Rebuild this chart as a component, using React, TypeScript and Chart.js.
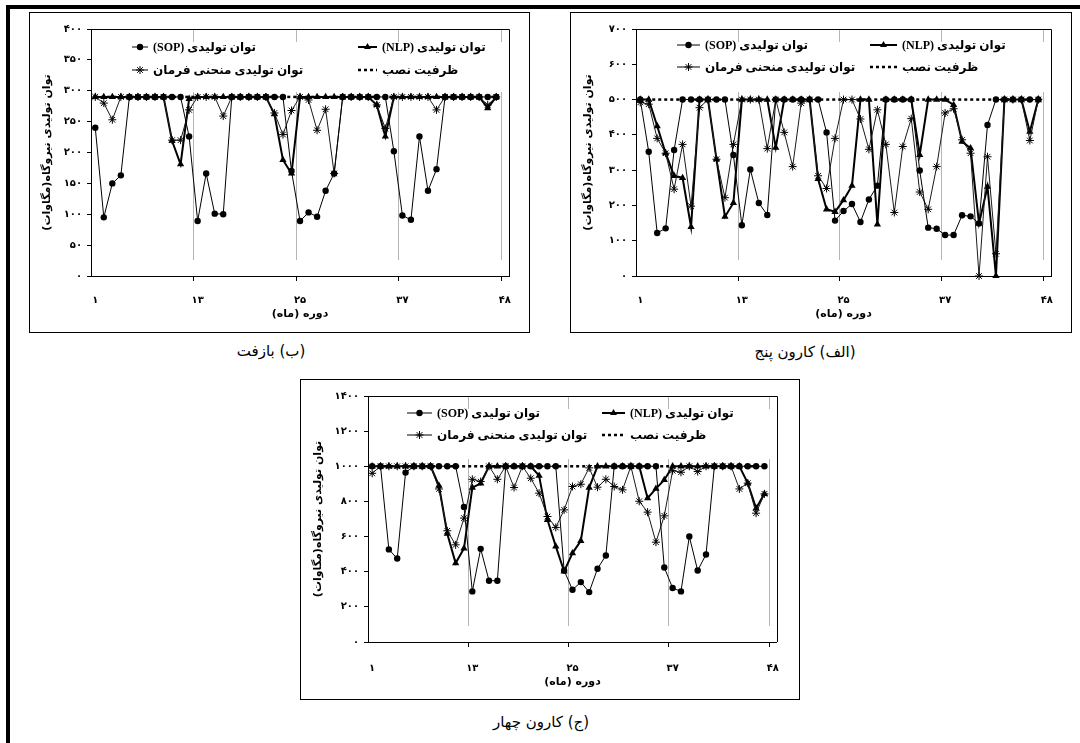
import React, { useEffect, useRef } from 'react';
import { Chart, registerables } from 'chart.js';
Chart.register(...registerables);

// ---------- categories / ticks ----------
const months = [1, 2, 3, 4, 5, 6, 7, 8, 9, 10, 11, 12, 13, 14, 15, 16, 17, 18, 19, 20, 21, 22, 23, 24,
  25, 26, 27, 28, 29, 30, 31, 32, 33, 34, 35, 36, 37, 38, 39, 40, 41, 42, 43, 44, 45, 46, 47, 48];
const xTickPos = [1, 13, 25, 37, 49];
const xTickLabels = ['۱', '۱۳', '۲۵', '۳۷', '۴۸'];
const yearBounds = [12.5, 24.5, 36.5, 48.5];

// ---------- labels ----------
const labelSOP = 'توان تولیدی (SOP)';
const labelNLP = 'توان تولیدی (NLP)';
const labelFarman = 'توان تولیدی منحنی فرمان';
const labelCap = 'ظرفیت نصب';
const yTitle = 'توان تولیدی نیروگاه(مگاوات)';
const xTitle = 'دوره (ماه)';

// ---------- Bazoft (ب) ----------
const bazoftCap = 290;
const bazoftSOP = [240, 95, 150, 163, 290, 290, 290, 290, 290, 290, 290, 226, 89, 166, 101, 100, 290, 290, 290, 290, 290, 290, 290, 170,
  89, 103, 96, 138, 166, 290, 290, 290, 290, 290, 290, 202, 98, 91, 226, 138, 173, 290, 290, 290, 290, 290, 290, 290];
const bazoftNLP = [290, 290, 290, 290, 290, 290, 290, 290, 290, 219, 181, 287, 290, 290, 290, 290, 290, 290, 290, 290, 290, 262, 188, 166,
  290, 290, 290, 290, 290, 290, 290, 290, 290, 277, 226, 290, 290, 290, 290, 290, 290, 290, 290, 290, 290, 290, 272, 290];
const bazoftFarman = [290, 280, 253, 290, 290, 290, 290, 290, 290, 220, 220, 269, 290, 290, 290, 259, 290, 290, 290, 290, 290, 264, 229, 268,
  290, 285, 236, 270, 166, 290, 290, 290, 290, 277, 239, 290, 290, 290, 290, 290, 269, 290, 290, 290, 290, 290, 277, 290];

// ---------- Karun 5 (الف) ----------
const karun5Cap = 500;
const karun5SOP = [500, 352, 122, 135, 357, 500, 500, 500, 500, 500, 500, 343, 144, 302, 207, 173, 500, 500, 500, 500, 500, 500, 407, 157,
  184, 204, 153, 217, 256, 500, 500, 500, 500, 299, 137, 134, 116, 116, 172, 169, 149, 428, 500, 500, 500, 500, 500, 500];
const karun5NLP = [500, 500, 425, 348, 284, 278, 139, 500, 500, 331, 168, 207, 500, 500, 500, 500, 364, 500, 500, 500, 500, 275, 189, 182,
  215, 256, 500, 500, 146, 500, 500, 500, 500, 343, 500, 500, 500, 485, 381, 362, 149, 253, 0, 500, 500, 500, 409, 500];
const karun5Farman = [492, 487, 390, 348, 246, 373, 198, 477, 500, 331, 222, 373, 500, 500, 500, 361, 500, 407, 310, 490, 500, 284, 248, 390,
  500, 500, 445, 359, 471, 373, 180, 367, 446, 238, 189, 310, 462, 474, 386, 348, 0, 338, 63, 500, 500, 500, 384, 500];

// ---------- Karun 4 (ج) ----------
const karun4Cap = 1000;
const karun4SOP = [1000, 1000, 527, 475, 964, 1000, 1000, 1000, 1000, 1000, 1000, 769, 288, 530, 349, 349, 1000, 1000, 1000, 1000, 1000, 1000, 1000, 407,
  297, 341, 284, 417, 492, 1000, 1000, 1000, 1000, 1000, 1000, 424, 307, 288, 600, 407, 498, 1000, 1000, 1000, 1000, 1000, 1000, 1000];
const karun4NLP = [1000, 1000, 1000, 1000, 1000, 1000, 1000, 1000, 890, 616, 449, 532, 879, 902, 1000, 1000, 1000, 1000, 1000, 1000, 947, 695, 544, 402,
  506, 576, 879, 1000, 1000, 1000, 1000, 1000, 1000, 818, 873, 922, 1000, 1000, 1000, 1000, 1000, 1000, 1000, 1000, 1000, 904, 761, 843];
const karun4Farman = [960, 1000, 1000, 1000, 1000, 1000, 1000, 1000, 871, 633, 553, 705, 926, 913, 1000, 926, 1000, 879, 1000, 932, 847, 714, 652, 752,
  885, 898, 991, 881, 926, 885, 866, 1000, 801, 739, 568, 718, 975, 966, 1000, 970, 1000, 1000, 1000, 1000, 871, 904, 733, 843];

const FONT = '"DejaVu Sans", sans-serif';
const LEG_FONT = 'bold 12px "Liberation Serif", "DejaVu Sans", serif';

function fa(n: number | string): string {
  return String(n).replace(/\d/g, (d) => '۰۱۲۳۴۵۶۷۸۹'[Number(d)]);
}

type Kind = 'sop' | 'nlp' | 'farman' | 'cap';

function drawMarker(ctx: CanvasRenderingContext2D, kind: Kind, x: number, y: number) {
  ctx.fillStyle = '#000';
  ctx.strokeStyle = '#000';
  if (kind === 'sop') {
    ctx.beginPath();
    ctx.arc(x, y, 3.2, 0, Math.PI * 2);
    ctx.fill();
  } else if (kind === 'nlp') {
    const r = 4;
    ctx.beginPath();
    ctx.moveTo(x, y - r);
    ctx.lineTo(x + r * 0.866, y + r * 0.5);
    ctx.lineTo(x - r * 0.866, y + r * 0.5);
    ctx.closePath();
    ctx.fill();
  } else if (kind === 'farman') {
    const r = 4;
    ctx.lineWidth = 1;
    ctx.beginPath();
    ctx.moveTo(x - r, y); ctx.lineTo(x + r, y);
    ctx.moveTo(x, y - r); ctx.lineTo(x, y + r);
    const d = r * 0.707;
    ctx.moveTo(x - d, y - d); ctx.lineTo(x + d, y + d);
    ctx.moveTo(x - d, y + d); ctx.lineTo(x + d, y - d);
    ctx.stroke();
  }
}

function drawLegendItem(ctx: CanvasRenderingContext2D, kind: Kind, label: string, x0: number, y: number, w: number) {
  ctx.save();
  ctx.strokeStyle = '#000';
  ctx.beginPath();
  if (kind === 'cap') {
    ctx.lineWidth = 2.5;
    ctx.setLineDash([3, 3]);
  } else {
    ctx.lineWidth = kind === 'nlp' ? 2 : 1;
  }
  ctx.moveTo(x0, y);
  ctx.lineTo(x0 + w, y);
  ctx.stroke();
  ctx.setLineDash([]);
  drawMarker(ctx, kind, x0 + w / 2, y);
  ctx.font = LEG_FONT;
  ctx.fillStyle = '#000';
  (ctx as any).direction = 'rtl';
  ctx.textAlign = 'left';
  ctx.textBaseline = 'middle';
  ctx.fillText(label, x0 + w + 5, y + 1);
  ctx.restore();
}

type ChartProps = {
  frame: { left: number; top: number; width: number; height: number };
  area: { left: number; right: number; top: number; bottom: number };
  yMax: number;
  yStep: number;
  sop: number[];
  nlp: number[];
  farman: number[];
  cap: number;
  xLabelPad: number;
  titleOff: number;
  legend: { leftX: number; leftW: number; rightX: number; rightW: number; row1: number; row2: number };
};

function PowerChart(props: ChartProps) {
  const ref = useRef<HTMLCanvasElement>(null);
  const cw = props.frame.width - 2;
  const ch = props.frame.height - 2;
  useEffect(() => {
    const p = props;
    const decor = {
      id: 'decor',
      beforeDatasetsDraw(chart: any) {
        const { ctx, chartArea, scales } = chart;
        const { left, right, top, bottom } = chartArea;
        const xs = scales.x;
        ctx.save();
        ctx.lineWidth = 1;
        ctx.strokeStyle = '#b5b5b5';
        for (const b of yearBounds) {
          const px = Math.round(xs.getPixelForValue(b)) + 0.5;
          ctx.beginPath();
          ctx.moveTo(px, top);
          ctx.lineTo(px, bottom - 16);
          ctx.stroke();
        }
        ctx.strokeStyle = '#000';
        for (const b of yearBounds) {
          const px = Math.round(xs.getPixelForValue(b)) + 0.5;
          ctx.beginPath();
          ctx.moveTo(px, bottom);
          ctx.lineTo(px, bottom + 5);
          ctx.stroke();
        }
        ctx.beginPath();
        ctx.moveTo(left, Math.round(top) + 0.5);
        ctx.lineTo(Math.round(right) + 0.5, Math.round(top) + 0.5);
        ctx.lineTo(Math.round(right) + 0.5, bottom);
        ctx.stroke();
        ctx.fillStyle = '#fff';
        ctx.fillRect(left + 2, top + 13, right - left - 4, 50);
        const L = p.legend;
        drawLegendItem(ctx, 'sop', labelSOP, L.leftX, L.row1, L.leftW);
        drawLegendItem(ctx, 'farman', labelFarman, L.leftX, L.row2, L.leftW);
        drawLegendItem(ctx, 'nlp', labelNLP, L.rightX, L.row1, L.rightW);
        drawLegendItem(ctx, 'cap', labelCap, L.rightX, L.row2, L.rightW);
        ctx.restore();
      },
    };
    const tickFont = { family: FONT, size: 10, weight: 'bold' as const };
    const titleFont = { family: FONT, size: 11, weight: 'bold' as const };
    const chart = new Chart(ref.current as HTMLCanvasElement, {
      type: 'line',
      data: {
        labels: months,
        datasets: [
          {
            label: labelSOP, data: p.sop, borderColor: '#000', borderWidth: 1,
            pointStyle: 'circle', pointRadius: 3.2, pointBackgroundColor: '#000', pointBorderColor: '#000',
            pointBorderWidth: 0, clip: false as any,
          },
          {
            label: labelFarman, data: p.farman, borderColor: '#1a1a1a', borderWidth: 1,
            pointStyle: 'star', pointRadius: 4, pointBackgroundColor: '#000', pointBorderColor: '#000',
            pointBorderWidth: 1, clip: false as any,
          },
          {
            label: labelNLP, data: p.nlp, borderColor: '#000', borderWidth: 2,
            pointStyle: 'triangle', pointRadius: 4.2, pointBackgroundColor: '#000', pointBorderColor: '#000',
            pointBorderWidth: 0, clip: false as any,
          },
          {
            label: labelCap, data: [{ x: 1, y: p.cap }, { x: 48, y: p.cap }] as any, borderColor: '#000',
            borderWidth: 2.5, borderDash: [3, 3], pointRadius: 0, clip: false as any,
          },
        ],
      },
      options: {
        responsive: false,
        animation: false,
        devicePixelRatio: 1,
        layout: { padding: { left: 0, top: p.area.top, right: cw - p.area.right, bottom: 0 } },
        plugins: { legend: { display: false }, tooltip: { enabled: false } },
        elements: { line: { tension: 0 } },
        scales: {
          x: {
            type: 'linear',
            min: 0.5,
            max: 49.5,
            afterBuildTicks: (s: any) => {
              s.ticks = xTickPos.map((v) => ({ value: v }));
            },
            afterFit: (s: any) => {
              s.height = ch - p.area.bottom;
            },
            ticks: {
              autoSkip: false,
              maxRotation: 0,
              padding: p.xLabelPad,
              color: '#000',
              font: tickFont,
              callback: (v: any) => {
                const i = xTickPos.indexOf(Number(v));
                return i >= 0 ? xTickLabels[i] : '';
              },
            },
            grid: { display: false, drawTicks: false, tickLength: 0 },
            border: { display: true, color: '#000', width: 1 },
            title: {
              display: true, text: xTitle, color: '#000', font: titleFont,
              padding: { top: 0, bottom: p.titleOff },
            },
          },
          y: {
            type: 'linear',
            min: 0,
            max: p.yMax,
            afterFit: (s: any) => {
              s.width = p.area.left;
            },
            ticks: {
              stepSize: p.yStep,
              padding: 5,
              color: '#000',
              font: tickFont,
              callback: (v: any) => fa(v),
            },
            grid: { display: true, drawOnChartArea: false, drawTicks: true, tickLength: 4, color: '#000' },
            border: { display: true, color: '#000', width: 1 },
            title: {
              display: true, text: yTitle, color: '#000', font: titleFont,
              padding: { top: 11, bottom: 0 },
            },
          },
        },
      },
      plugins: [decor],
    } as any);
    return () => chart.destroy();
  }, []);
  return (
    <div
      style={{
        position: 'absolute',
        left: props.frame.left,
        top: props.frame.top,
        width: props.frame.width,
        height: props.frame.height,
        border: '1px solid #000',
        boxSizing: 'border-box',
        background: '#fff',
      }}
    >
      <canvas ref={ref} width={cw} height={ch} dir="rtl" style={{ display: 'block' }} />
    </div>
  );
}

function Caption({ text, x, y }: { text: string; x: number; y: number }) {
  return (
    <div
      dir="rtl"
      style={{
        position: 'absolute',
        left: x,
        top: y - 10,
        transform: 'translateX(-50%)',
        whiteSpace: 'nowrap',
        fontFamily: FONT,
        fontSize: 15,
        lineHeight: '20px',
        color: '#000',
      }}
    >
      {text}
    </div>
  );
}

export default function App() {
  return (
    <div style={{ position: 'absolute', left: 0, top: 0, width: 1080, height: 743, background: '#fff', overflow: 'hidden' }}>
      <div
        style={{
          position: 'absolute', left: 6, top: 5, width: 1074, height: 738,
          borderTop: '4px solid #000', borderLeft: '4px solid #000', boxSizing: 'border-box',
        }}
      />
      <PowerChart
        frame={{ left: 29, top: 12, width: 501, height: 321 }}
        area={{ left: 61, right: 487, top: 16, bottom: 263 }}
        yMax={400}
        yStep={50}
        sop={bazoftSOP}
        nlp={bazoftNLP}
        farman={bazoftFarman}
        cap={bazoftCap}
        xLabelPad={18}
        titleOff={11}
        legend={{ leftX: 102, leftW: 16, rightX: 328, rightW: 19, row1: 34, row2: 57 }}
      />
      <PowerChart
        frame={{ left: 570, top: 12, width: 502, height: 321 }}
        area={{ left: 65, right: 488, top: 16, bottom: 263 }}
        yMax={700}
        yStep={100}
        sop={karun5SOP}
        nlp={karun5NLP}
        farman={karun5Farman}
        cap={karun5Cap}
        xLabelPad={18}
        titleOff={11}
        legend={{ leftX: 106, leftW: 23, rightX: 299, rightW: 27, row1: 32, row2: 54 }}
      />
      <PowerChart
        frame={{ left: 300, top: 379, width: 500, height: 321 }}
        area={{ left: 67, right: 487, top: 16, bottom: 262 }}
        yMax={1400}
        yStep={200}
        sop={karun4SOP}
        nlp={karun4NLP}
        farman={karun4Farman}
        cap={karun4Cap}
        xLabelPad={20}
        titleOff={10}
        legend={{ leftX: 106, leftW: 25, rightX: 301, rightW: 23, row1: 33, row2: 55 }}
      />
      <Caption text="(ب) بازفت" x={271} y={351} />
      <Caption text="(الف) کارون پنج" x={805} y={352} />
      <Caption text="(ج) کارون چهار" x={541} y={722} />
    </div>
  );
}
